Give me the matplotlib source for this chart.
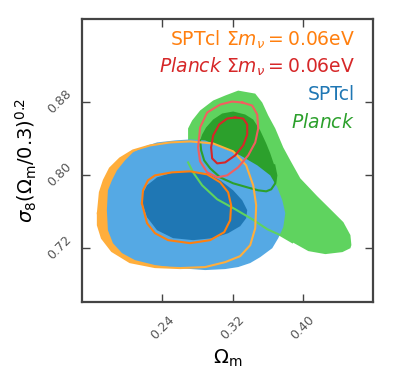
import numpy as np
import matplotlib.pyplot as plt

plt.rcParams['mathtext.fontset'] = 'dejavusans'

# contour outlines (Omega_m, sigma_8 (Om/0.3)^0.2)
# Planck 2 sigma
planck2_om = [0.2693, 0.2693, 0.2739, 0.2830, 0.2978, 0.3115, 0.3263, 0.3457,
              0.3537, 0.3605, 0.3685, 0.3776, 0.3856, 0.3970, 0.4163, 0.4312,
              0.4460, 0.4540, 0.4551, 0.4540, 0.4449, 0.4255, 0.4061, 0.3879,
              0.3742, 0.3594, 0.3423, 0.3229, 0.3024, 0.2853, 0.2750, 0.2693]
planck2_s8 = [0.8396, 0.8505, 0.8592, 0.8702, 0.8811, 0.8866, 0.8920, 0.8887,
              0.8789, 0.8647, 0.8505, 0.8297, 0.8155, 0.7958, 0.7762, 0.7620,
              0.7478, 0.7336, 0.7227, 0.7193, 0.7150, 0.7128, 0.7161, 0.7259,
              0.7336, 0.7401, 0.7510, 0.7620, 0.7729, 0.7882, 0.8024, 0.8133]
# Planck 1 sigma
planck1_om = [0.2830, 0.2842, 0.2876, 0.2944, 0.3058, 0.3206, 0.3366, 0.3491,
              0.3582, 0.3639, 0.3685, 0.3697, 0.3674, 0.3628, 0.3582, 0.3514,
              0.3434, 0.3343, 0.3206, 0.3081, 0.2978, 0.2898, 0.2853]
planck1_s8 = [0.8374, 0.8264, 0.8155, 0.8068, 0.7969, 0.7904, 0.7860, 0.7827,
              0.7816, 0.7838, 0.7904, 0.7991, 0.8101, 0.8232, 0.8341, 0.8483,
              0.8603, 0.8658, 0.8691, 0.8669, 0.8603, 0.8516, 0.8439]
# Planck, sum m_nu = 0.06 eV
planck_nu2_om = [0.3311, 0.3423, 0.3480, 0.3491, 0.3457, 0.3377, 0.3263, 0.3138,
                 0.3024, 0.2910, 0.2830, 0.2807, 0.2830, 0.2910, 0.3058, 0.3195]
planck_nu2_s8 = [0.8789, 0.8756, 0.8658, 0.8505, 0.8352, 0.8210, 0.8079, 0.7991,
                 0.7969, 0.8024, 0.8144, 0.8297, 0.8516, 0.8680, 0.8767, 0.8800]
planck_nu1_om = [0.3229, 0.3320, 0.3366, 0.3366, 0.3320, 0.3229, 0.3115, 0.3024,
                 0.2967, 0.2955, 0.2978, 0.3047, 0.3138]
planck_nu1_s8 = [0.8625, 0.8614, 0.8549, 0.8439, 0.8319, 0.8210, 0.8133, 0.8122,
                 0.8177, 0.8297, 0.8428, 0.8549, 0.8614]
# SPTcl
spt2_om = [0.1769, 0.1781, 0.1827, 0.1884, 0.1975, 0.2066, 0.2203, 0.2340,
           0.2545, 0.2716, 0.2887, 0.3058, 0.3286, 0.3480, 0.3628, 0.3708,
           0.3765, 0.3799, 0.3776, 0.3719, 0.3651, 0.3514, 0.3400, 0.3263,
           0.3115, 0.2887, 0.2579, 0.2317, 0.2089, 0.1941, 0.1838, 0.1781]
spt2_s8 = [0.7609, 0.7827, 0.7937, 0.8046, 0.8155, 0.8243, 0.8308, 0.8352,
           0.8374, 0.8385, 0.8374, 0.8308, 0.8210, 0.8101, 0.7991, 0.7860,
           0.7718, 0.7576, 0.7423, 0.7303, 0.7193, 0.7095, 0.7030, 0.6986,
           0.6964, 0.6953, 0.6975, 0.7008, 0.7062, 0.7139, 0.7248, 0.7390]
spt1_om = [0.2180, 0.2180, 0.2226, 0.2340, 0.2522, 0.2716, 0.2910, 0.3058,
           0.3206, 0.3309, 0.3366, 0.3354, 0.3286, 0.3149, 0.2978, 0.2750,
           0.2522, 0.2340, 0.2226]
spt1_s8 = [0.7663, 0.7794, 0.7882, 0.7969, 0.8024, 0.8035, 0.8013, 0.7937,
           0.7827, 0.7718, 0.7609, 0.7521, 0.7434, 0.7357, 0.7303, 0.7281,
           0.7303, 0.7390, 0.7532]
# SPTcl, sum m_nu = 0.06 eV
spt_nu2_om = [0.1667, 0.1690, 0.1735, 0.1804, 0.1918, 0.2066, 0.2260, 0.2488,
              0.2716, 0.2978, 0.3206, 0.3354, 0.3434, 0.3468, 0.3457, 0.3400,
              0.3286, 0.3115, 0.2887, 0.2602, 0.2317, 0.2032, 0.1827, 0.1713,
              0.1667]
spt_nu2_s8 = [0.7576, 0.7805, 0.7937, 0.8068, 0.8177, 0.8264, 0.8319, 0.8352,
              0.8363, 0.8341, 0.8254, 0.8101, 0.7882, 0.7663, 0.7412, 0.7226,
              0.7106, 0.7040, 0.6986, 0.6975, 0.6986, 0.7040, 0.7161, 0.7303,
              0.7445]
spt_nu1_om = [0.2168, 0.2180, 0.2237, 0.2317, 0.2511, 0.2716, 0.2910, 0.3058,
              0.3149, 0.3183, 0.3172, 0.3104, 0.2944, 0.2716, 0.2466, 0.2317,
              0.2226]
spt_nu1_s8 = [0.7685, 0.7827, 0.7937, 0.7991, 0.8024, 0.8035, 0.8002, 0.7915,
              0.7805, 0.7663, 0.7500, 0.7368, 0.7281, 0.7248, 0.7281, 0.7357,
              0.7467]

xticks = [0.24, 0.32, 0.40]
yticks = [0.72, 0.80, 0.88]

labels = [r'SPTcl $\Sigma m_\nu = 0.06$eV',
          r'$\mathit{Planck}\ \Sigma m_\nu = 0.06$eV',
          'SPTcl', r'$\mathit{Planck}$']
label_colors = ['#ff7f0e', '#d62728', '#1f77b4', '#2ca02c']


def closed(a):
    return list(a) + [a[0]]


fig = plt.figure(figsize=(3.93, 3.81), dpi=100)
ax = fig.add_axes([0.2095, 0.2066, 0.7403, 0.7424])

# filled regions
ax.fill(spt_nu2_om, spt_nu2_s8, color='#ffae3c', lw=0, zorder=1)
ax.fill(planck2_om, planck2_s8, color='#5fd35f', lw=0, zorder=2)
ax.fill(planck1_om, planck1_s8, color='#2ca02c', lw=0, zorder=3)
ax.fill(spt2_om, spt2_s8, color='#55a9e4', lw=0, zorder=4)
ax.fill(spt1_om, spt1_s8, color='#1f77b4', lw=0, zorder=5)

# outlines on top
ax.plot(planck2_om[23:], planck2_s8[23:], color='#5fd35f', lw=1.5, zorder=6)
ax.plot(planck1_om[:13], planck1_s8[:13], color='#2ca02c', lw=1.5, zorder=6)
ax.plot(closed(spt_nu2_om), closed(spt_nu2_s8), color='#ffae3c', lw=1.5, zorder=7)
ax.plot(closed(spt_nu1_om), closed(spt_nu1_s8), color='#ff7f0e', lw=1.5, zorder=7)
ax.plot(closed(planck_nu2_om), closed(planck_nu2_s8), color='#f25f5f', lw=1.5, zorder=8)
ax.plot(closed(planck_nu1_om), closed(planck_nu1_s8), color='#d62728', lw=1.5, zorder=8)

ax.set_xlim(0.149, 0.480)
ax.set_ylim(0.66, 0.97)
ax.set_xticks(xticks)
ax.set_yticks(yticks)
ax.set_xticklabels(['%.2f' % t for t in xticks], rotation=45, ha='center', va='top')
ax.set_yticklabels(['%.2f' % t for t in yticks], rotation=45, ha='right', va='center')
ax.tick_params(direction='in', length=5.5, width=1, color='#444444', labelcolor='#555555',
               labelsize=9, top=True, right=True)
ax.tick_params(axis='x', pad=8)
ax.tick_params(axis='y', pad=6)
for sp in ax.spines.values():
    sp.set_color('#444444')
    sp.set_linewidth(1.6)

ax.set_xlabel(r'$\Omega_{\rm m}$', fontsize=14)
ax.set_ylabel(r'$\sigma_8(\Omega_{\rm m}/0.3)^{0.2}$', fontsize=14)

ypos = [0.927, 0.832, 0.733, 0.637]
for lab, c, yy in zip(labels, label_colors, ypos):
    ax.text(0.937, yy, lab, color=c, fontsize=13.5, ha='right', va='center',
            transform=ax.transAxes)

fig.savefig('out.png', dpi=100)
